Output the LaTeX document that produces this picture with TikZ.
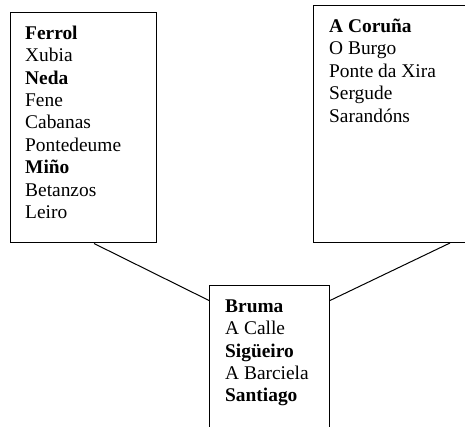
\documentclass[tikz,border=0pt]{standalone}
\usepackage{fontspec}
\setmainfont{Liberation Serif}
\usetikzlibrary{calc}
\begin{document}
\begin{tikzpicture}[x=1pt,y=-1pt,
  box/.style={draw,line width=1pt,inner sep=0pt,anchor=north west},
  entry/.style={anchor=base west,inner sep=0pt,font=\fontsize{19.4}{22.4}\selectfont},
  link/.style={line width=1pt}]
\clip (0,0) rectangle (465,427);
\node[box, minimum width=146.5pt, minimum height=230.5pt] (lbox) at (9.5,12) {};
\node[box, minimum width=200pt, minimum height=237pt] (rbox) at (313,5) {};
\node[box, minimum width=120pt, minimum height=200pt] (bbox) at (209,285) {};
\foreach [count=\i from 0] \t in {\textbf{Ferrol},Xubia,\textbf{Neda},Fene,Cabanas,Pontedeume,\textbf{Miño},Betanzos,Leiro}
  \node[entry] (l\i) at (25,39.3+22.4*\i) {\t};
\foreach [count=\i from 0] \t in {\textbf{A Coruña},O Burgo,Ponte da Xira,Sergude,Sarandóns}
  \node[entry] (r\i) at (329,32.5+22.4*\i) {\t};
\foreach [count=\i from 0] \t in {\textbf{Bruma},A Calle,\textbf{Sigüeiro},A Barciela,\textbf{Santiago}}
  \node[entry] (b\i) at (225,312.3+22.4*\i) {\t};
\draw[link] ($(lbox.south west)+(84.5,0)$) -- ($(bbox.north west)+(0,15.5)$);
\draw[link] ($(bbox.north east)+(0,15.5)$) -- ($(rbox.south west)+(137,0)$);
\end{tikzpicture}
\end{document}
